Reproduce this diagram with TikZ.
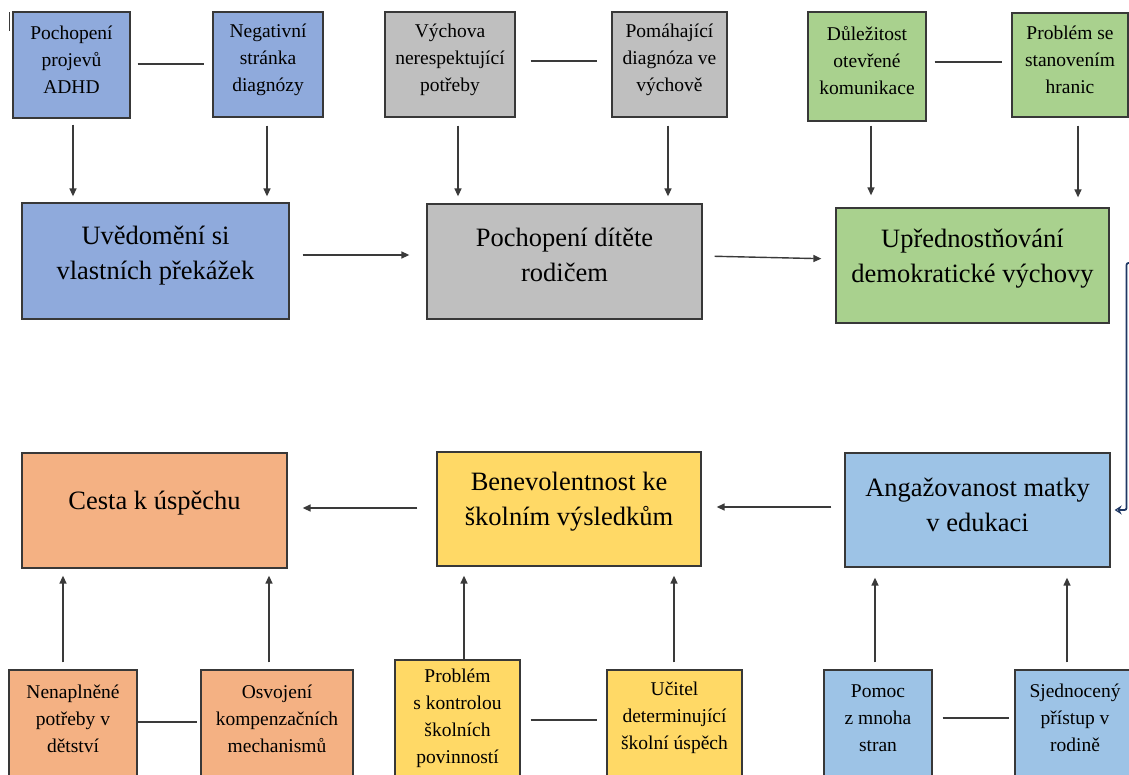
\documentclass[tikz,border=0pt]{standalone}
\usepackage{fontspec}
\setmainfont{Liberation Serif}
\usetikzlibrary{arrows.meta}
\definecolor{bdr}{HTML}{383838}
\definecolor{lnk}{HTML}{3A3A3A}
\definecolor{cblue}{HTML}{8FAADC}
\definecolor{cgrey}{HTML}{BFBFBF}
\definecolor{cgreen}{HTML}{A9D18E}
\definecolor{corange}{HTML}{F4B183}
\definecolor{cyellow}{HTML}{FFD966}
\definecolor{clblue}{HTML}{9DC3E6}
\definecolor{navyc}{HTML}{1F3864}
\begin{document}
\begin{tikzpicture}[x=1pt,y=-1pt,
  boxx/.style={draw=bdr, line width=1.3pt, inner sep=0pt},
  stxt/.style={align=center, font=\fontsize{19.5}{27}\selectfont, inner sep=0pt, text=black},
  btxt/.style={align=center, font=\fontsize{26.5}{35}\selectfont, inner sep=0pt, text=black},
  link/.style={draw=lnk, line width=1.4pt},
  arr/.style={link, -{Triangle[length=8pt,width=7pt]}}]
\useasboundingbox (0,0) rectangle (1129,774);
\fill[white] (0,0) rectangle (1129,774);
\clip (0,0) rectangle (1129,774);
% cursor mark
\draw[lnk, line width=1.2pt] (9.5,12) -- (9.5,31);
% boxes top row
\node[boxx, fill=cblue, minimum width=117pt, minimum height=106pt] (a1) at (71.5,65) {};
\node[boxx, fill=cblue, minimum width=110pt, minimum height=105pt] (a2) at (268,64.5) {};
\node[boxx, fill=cgrey, minimum width=130pt, minimum height=105pt] (b1) at (450,64.5) {};
\node[boxx, fill=cgrey, minimum width=115pt, minimum height=105pt] (b2) at (669.5,64.5) {};
\node[boxx, fill=cgreen, minimum width=118pt, minimum height=109pt] (c1) at (867,66.5) {};
\node[boxx, fill=cgreen, minimum width=116pt, minimum height=104pt] (c2) at (1070,65) {};
\node[stxt] (a1t) at (71.5,60) {Pochopení\\projevů\\ADHD};
\node[stxt] (a2t) at (268,60) {Negativní\\stránka\\diagnózy};
\node[stxt] (b1t) at (450,60) {Výchova\\nerespektující\\potřeby};
\node[stxt] (b2t) at (669.5,60) {Pomáhající\\diagnóza ve\\výchově};
\node[stxt] (c1t) at (867,61) {Důležitost\\otevřené\\komunikace};
\node[stxt] (c2t) at (1070,60) {Problém se\\stanovením\\hranic};
% middle row
\node[boxx, fill=cblue, minimum width=267pt, minimum height=116pt] (d1) at (155.5,261) {};
\node[boxx, fill=cgrey, minimum width=275pt, minimum height=115pt] (d2) at (564.5,261.5) {};
\node[boxx, fill=cgreen, minimum width=273pt, minimum height=115pt] (d3) at (972.5,265.5) {};
\node[btxt] (d1t) at (155.5,256) {Uvědomění si\\vlastních překážek};
\node[btxt] (d2t) at (564.5,255) {Pochopení dítěte\\rodičem};
\node[btxt] (d3t) at (972.5,259) {Upřednostňování\\demokratické výchovy};
% lower big row
\node[boxx, fill=corange, minimum width=265pt, minimum height=115pt] (e1) at (154.5,510.5) {};
\node[boxx, fill=cyellow, minimum width=264pt, minimum height=114pt] (e2) at (569,509) {};
\node[boxx, fill=clblue, minimum width=265pt, minimum height=114pt] (e3) at (977.5,510) {};
\node[btxt] (e1t) at (154.5,503) {Cesta k úspěchu};
\node[btxt] (e2t) at (569,502) {Benevolentnost ke\\školním výsledkům};
\node[btxt] (e3t) at (977.5,505) {Angažovanost matky\\v edukaci};
% bottom small row
\node[boxx, fill=corange, minimum width=128pt, minimum height=130pt] (f1) at (73,735) {};
\node[boxx, fill=corange, minimum width=152pt, minimum height=130pt] (f2) at (277,735) {};
\node[boxx, fill=cyellow, minimum width=125pt, minimum height=140pt] (g1) at (457.5,730) {};
\node[boxx, fill=cyellow, minimum width=135pt, minimum height=130pt] (g2) at (674.5,735) {};
\node[boxx, fill=clblue, minimum width=108pt, minimum height=130pt] (h1) at (878,735) {};
\node[boxx, fill=clblue, minimum width=120pt, minimum height=130pt] (h2) at (1075,735) {};
\node[stxt] (f1t) at (73,719) {Nenaplněné\\potřeby v\\dětství};
\node[stxt] (f2t) at (277,719) {Osvojení\\kompenzačních\\mechanismů};
\node[stxt] (g1t) at (457.5,718) {Problém\\s kontrolou\\školních\\povinností};
\node[stxt] (g2t) at (674.5,718) {Učitel\\determinující\\školní úspěch};
\node[stxt] (h1t) at (878,718) {Pomoc\\z mnoha\\stran};
\node[stxt] (h2t) at (1075,718) {Sjednocený\\přístup v\\rodině};
% horizontal plain links
\draw[link, shorten <=7pt, shorten >=8pt] (a1.east |- 0,64) -- (a2.west |- 0,64);
\draw[link, shorten <=15pt, shorten >=14pt] (b1.east |- 0,61) -- (b2.west |- 0,61);
\draw[link, shorten <=8pt, shorten >=9pt] (c1.east |- 0,62) -- (c2.west |- 0,62);
\draw[link, shorten >=3pt] (f1.east |- 0,722) -- (f2.west |- 0,722);
\draw[link, shorten <=10pt, shorten >=9pt] (g1.east |- 0,720) -- (g2.west |- 0,720);
\draw[link, shorten <=10pt, shorten >=5pt] (h1.east |- 0,718) -- (h2.west |- 0,718);
% top arrows down
\draw[arr, shorten <=6pt, shorten >=6pt] (a1.south -| 73,0) -- (73,0 |- d1.north);
\draw[arr, shorten <=8pt, shorten >=6pt] (a2.south -| 267,0) -- (267,0 |- d1.north);
\draw[arr, shorten <=8pt, shorten >=7pt] (b1.south -| 458,0) -- (458,0 |- d2.north);
\draw[arr, shorten <=8pt, shorten >=7pt] (b2.south -| 668,0) -- (668,0 |- d2.north);
\draw[arr, shorten <=4pt, shorten >=12pt] (c1.south -| 871,0) -- (871,0 |- d3.north);
\draw[arr, shorten <=8pt, shorten >=10pt] (c2.south -| 1078,0) -- (1078,0 |- d3.north);
% middle horizontal arrows
\draw[arr, shorten <=13pt, shorten >=17pt] (d1.east |- 0,255) -- (d2.west |- 0,255);
\draw[arr, shorten <=12pt, shorten >=14pt] (d2.east |- 0,256) -- (d3.west |- 0,259);
\draw[arr, shorten <=19pt, shorten >=15pt] (e2.west |- 0,508) -- (e1.east |- 0,508);
\draw[arr, shorten <=13pt, shorten >=15pt] (e3.west |- 0,507) -- (e2.east |- 0,507);
% bottom arrows up
\draw[arr, shorten <=7pt, shorten >=7pt] (f1.north -| 63,0) -- (63,0 |- e1.south);
\draw[arr, shorten <=7pt, shorten >=7pt] (f2.north -| 269,0) -- (269,0 |- e1.south);
\draw[arr, shorten >=9pt] (g1.north -| 464,0) -- (464,0 |- e2.south);
\draw[arr, shorten <=7pt, shorten >=9pt] (g2.north -| 674,0) -- (674,0 |- e2.south);
\draw[arr, shorten <=7pt, shorten >=10pt] (h1.north -| 875,0) -- (875,0 |- e3.south);
\draw[arr, shorten <=7pt, shorten >=10pt] (h2.north -| 1067,0) -- (1067,0 |- e3.south);
% navy connector from upper right to Angazovanost
\coordinate (nvs) at (1140,263);
\draw[navyc, line width=1.8pt, rounded corners=2pt, shorten >=4pt,
      -{Stealth[open, length=7pt, width=9pt]}]
  (nvs) -- (1126.5,263) -- (1126.5,510) -- (e3.east);
\end{tikzpicture}
\end{document}
